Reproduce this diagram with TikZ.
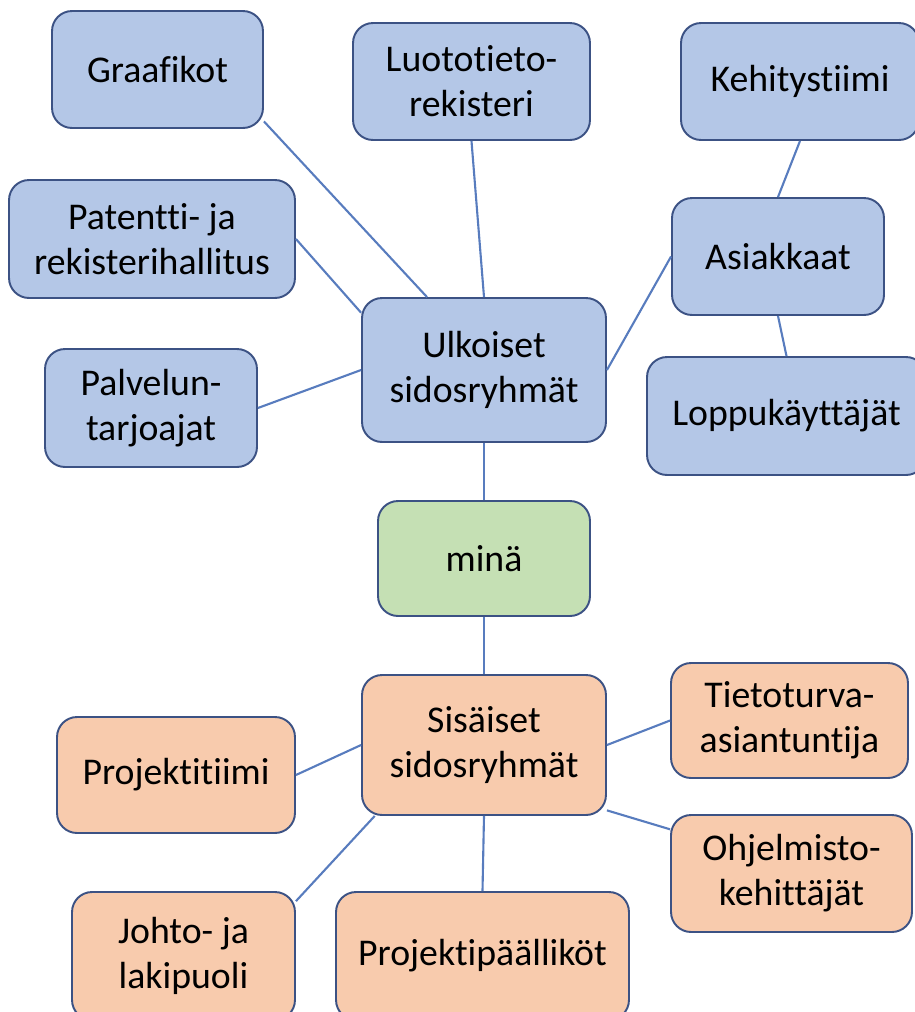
\documentclass[tikz,border=0pt]{standalone}
\usepackage{fontspec}
\setmainfont[Ligatures=NoCommon]{Carlito}
\usepackage{tikz}
\usetikzlibrary{positioning}
\definecolor{bluec}{RGB}{180,199,231}
\definecolor{greenc}{RGB}{197,224,180}
\definecolor{orangec}{RGB}{248,203,173}
\definecolor{edgec}{RGB}{60,82,132}
\definecolor{linkc}{RGB}{88,124,190}

\begin{document}
\begin{tikzpicture}[x=0.02cm, y=-0.02cm,
  box/.style={draw=edgec, line width=1.1pt, rounded corners=0.4cm, align=center,
    inner sep=0pt, font=\fontsize{21.5}{25.6}\selectfont},
  outer/.style={box, fill=bluec},
  inner/.style={box, fill=orangec},
  me/.style={box, fill=greenc},
  link/.style={draw=linkc, line width=1.2pt}]

\clip (0,0) rectangle (915,1012);

% px coordinates, y downwards; centres, sizes in cm (1px = 0.02cm)
\node[outer, minimum width=4.22cm, minimum height=2.34cm] (graafikot) at (157.5,69.5) {Graafikot};
\node[outer, minimum width=4.74cm, minimum height=2.34cm] (luototieto) at (471.5,81.5) {Luototieto-\\rekisteri};
\node[outer, minimum width=4.76cm, minimum height=2.34cm] (kehitys) at (800,81.5) {Kehitystiimi};
\node[outer, minimum width=5.72cm, minimum height=2.36cm] (patentti) at (152,239) {Patentti- ja\\rekisterihallitus};
\node[outer, minimum width=4.24cm, minimum height=2.34cm] (asiakkaat) at (778,256.5) {Asiakkaat};
\node[outer, minimum width=4.88cm, minimum height=2.88cm] (ulkoiset) at (484,370) {Ulkoiset\\sidosryhmät};
\node[outer, minimum width=4.24cm, minimum height=2.36cm] (palvelu) at (151,408) {Palvelun-\\tarjoajat};
\node[outer, minimum width=5.58cm, minimum height=2.36cm] (loppu) at (786.5,416) {Loppukäyttäjät};

\node[me, minimum width=4.24cm, minimum height=2.30cm] (mina) at (484,558.5) {minä};

\node[inner, minimum width=4.88cm, minimum height=2.80cm] (sisaiset) at (484,745) {Sisäiset\\sidosryhmät};
\node[inner, minimum width=4.76cm, minimum height=2.32cm] (projtiimi) at (176,775) {Projektitiimi};
\node[inner, minimum width=4.74cm, minimum height=2.30cm] (tietoturva) at (789.5,720.5) {Tietoturva-\\asiantuntija};
\node[inner, minimum width=4.82cm, minimum height=2.34cm] (ohjelmisto) at (791.5,873.5) {Ohjelmisto-\\kehittäjät};
% bottom row runs off the page
\node[inner, minimum width=4.46cm, minimum height=2.56cm] (johto) at (183.5,956) {Johto- ja\\lakipuoli};
\node[inner, minimum width=5.86cm, minimum height=2.56cm] (projpaal) at (482.5,956) {Projektipäälliköt};

% connectors
\draw[link] (graafikot.-26.5) -- (ulkoiset.128.6);
\draw[link] (luototieto.south) -- (ulkoiset.north);
\draw[link] (patentti.east) -- (ulkoiset.155.7);
\draw[link] (palvelu.east) -- (ulkoiset.west);
\draw[link] (ulkoiset.east) -- (asiakkaat.west);
\draw[link] (kehitys.south) -- (asiakkaat.north);
\draw[link] (asiakkaat.south) -- (loppu.north);
\draw[link] (ulkoiset.south) -- (mina.north);
\draw[link] (mina.south) -- (sisaiset.north);
\draw[link] (sisaiset.west) -- (projtiimi.east);
\draw[link] (sisaiset.213.7) -- (johto.26);
\draw[link] (sisaiset.south) -- (projpaal.north);
\draw[link] (sisaiset.east) -- (tietoturva.west);
\draw[link] (sisaiset.-28) -- (ohjelmisto.160.6);
\end{tikzpicture}
\end{document}
